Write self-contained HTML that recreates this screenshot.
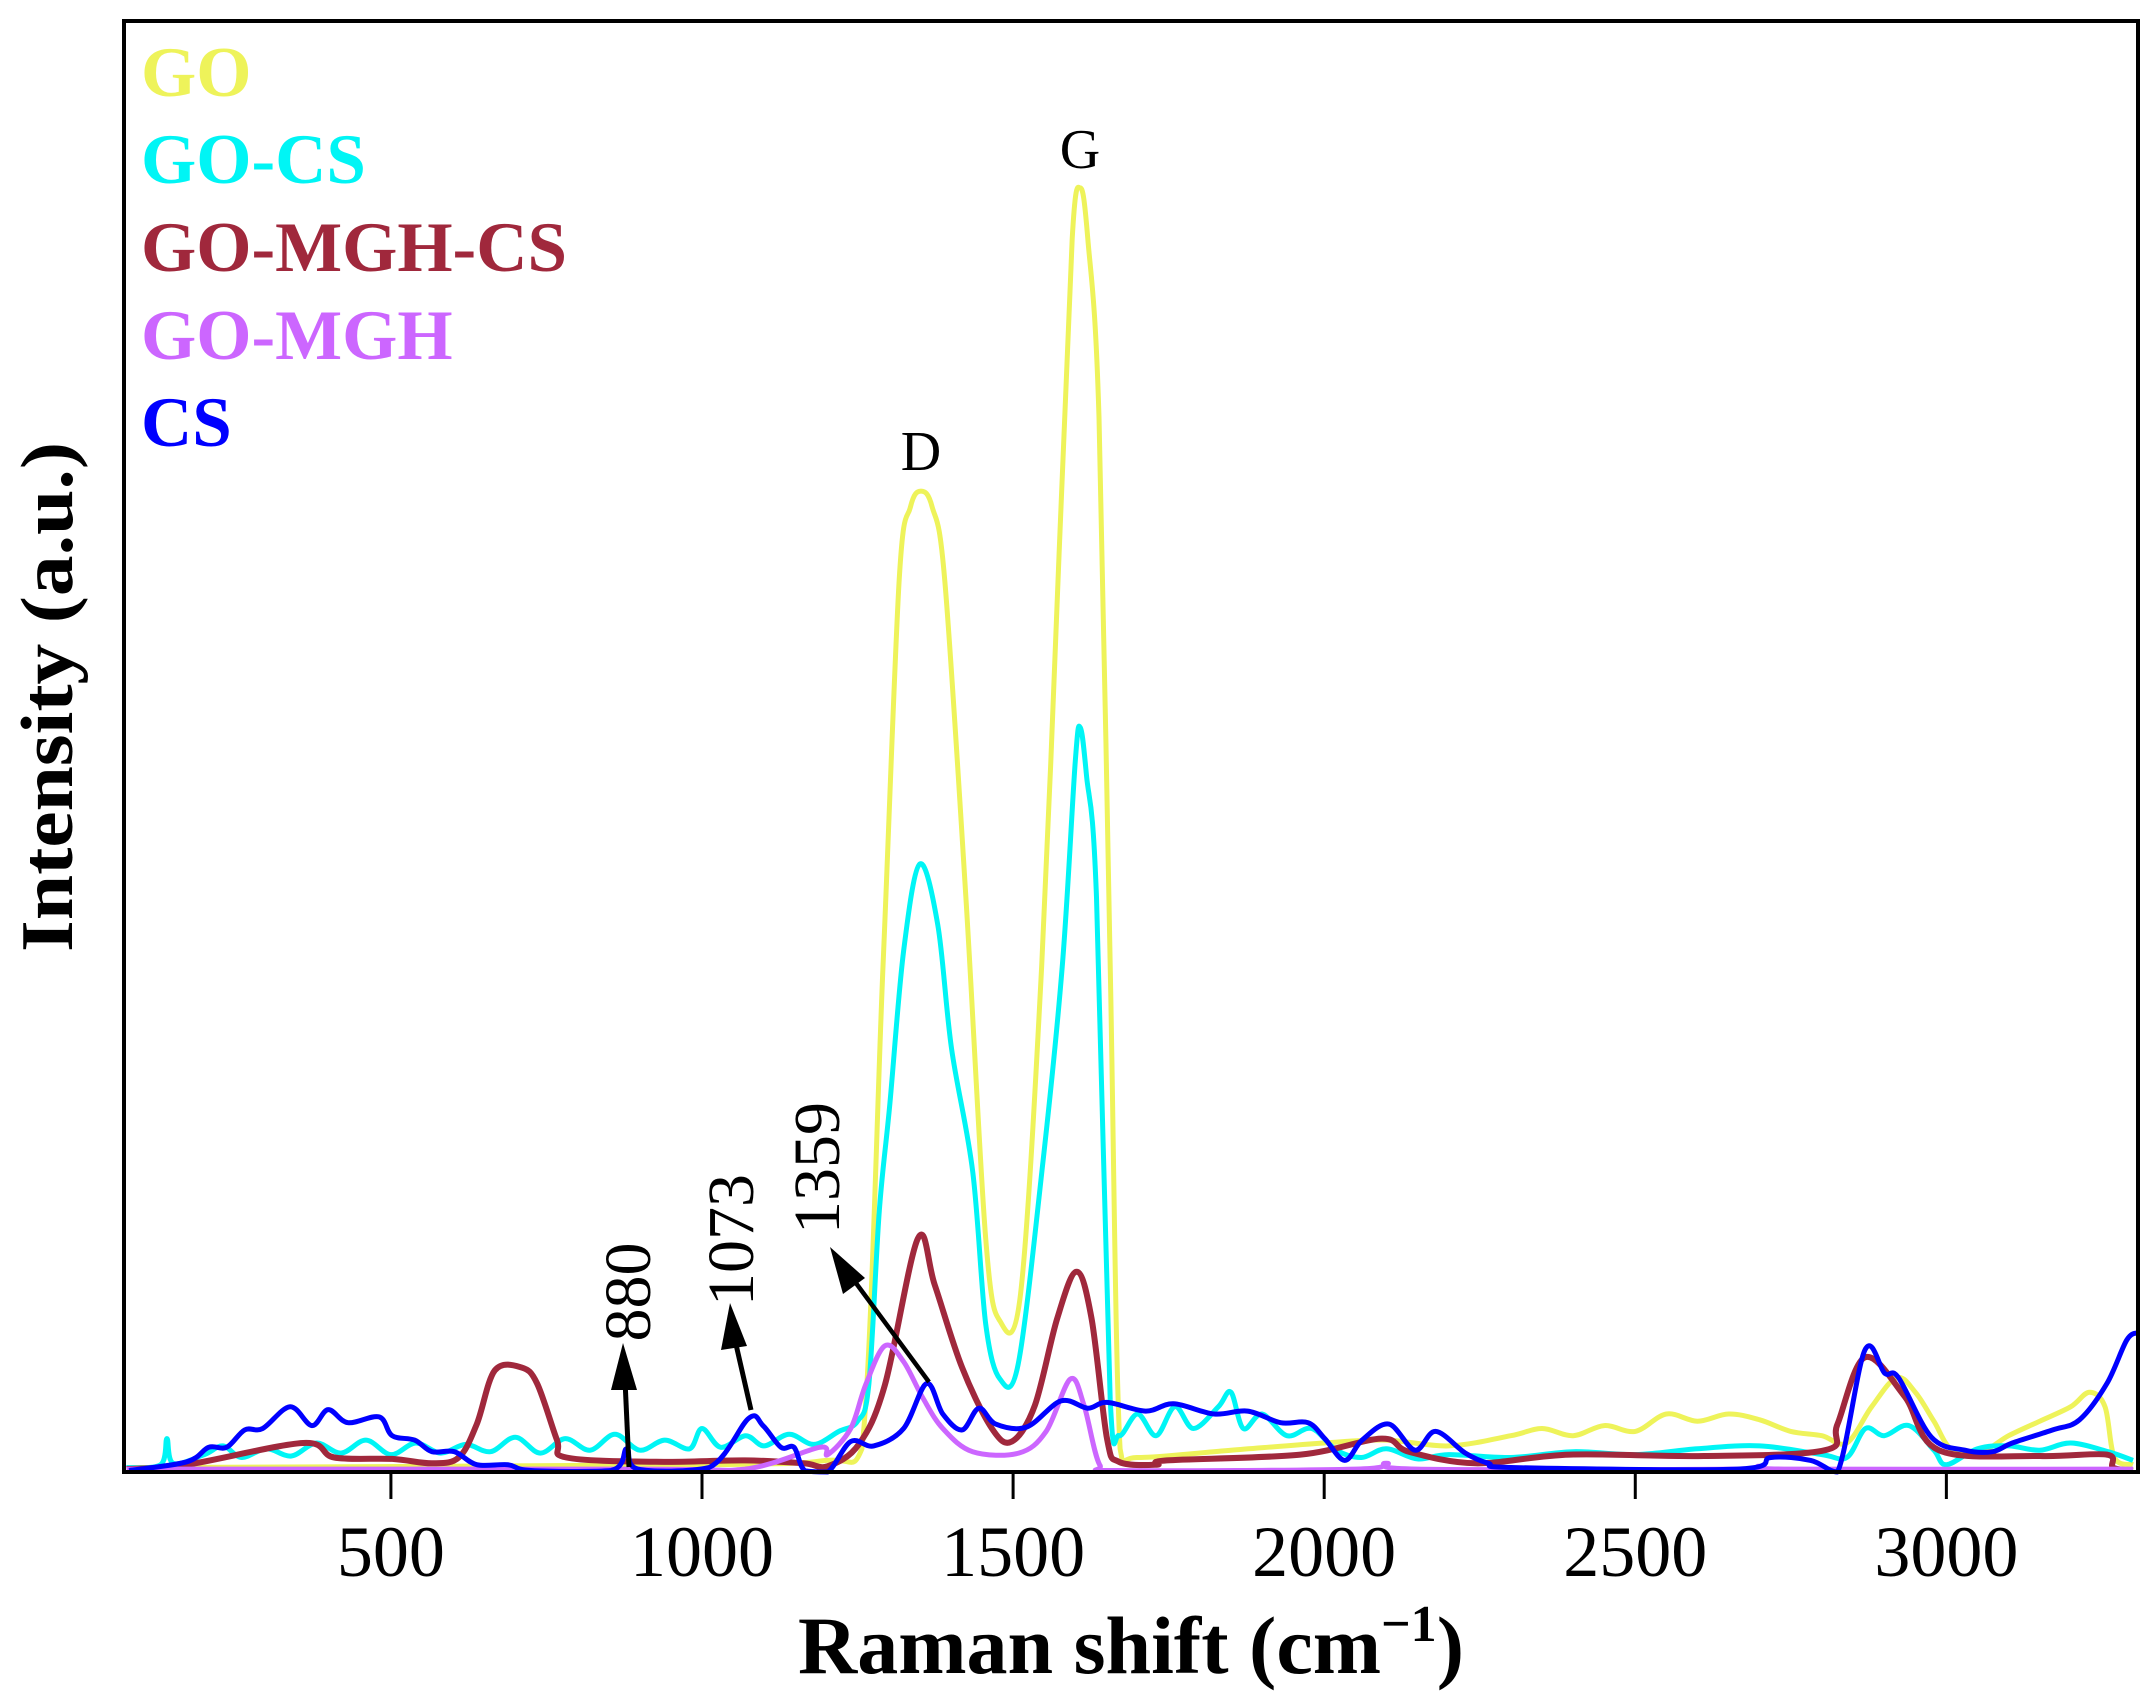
<!DOCTYPE html>
<html><head><meta charset="utf-8"><style>
html,body{margin:0;padding:0;background:#fff;}
svg{display:block;font-family:"Liberation Serif","Times New Roman",serif;}
</style></head><body>
<svg id="chart" width="2152" height="1708" viewBox="0 0 2152 1708" xmlns="http://www.w3.org/2000/svg">
<g id="series"></g>
<rect x="124" y="21" width="2014" height="1451" fill="none" stroke="#000" stroke-width="4"/>
<g id="xticks"></g>
<text x="1131" y="1673" text-anchor="middle" font-size="82" font-weight="bold">Raman shift (cm<tspan font-size="52" dy="-32">−1</tspan><tspan dy="32">)</tspan></text>
<text transform="translate(72,697) rotate(-90)" text-anchor="middle" font-size="74" font-weight="bold" textLength="510" lengthAdjust="spacingAndGlyphs">Intensity (a.u.)</text>
<g font-weight="bold" font-size="71">
<text x="141" y="96" fill="#eef35a">GO</text>
<text x="141" y="183" fill="#00f5f5">GO-CS</text>
<text x="141" y="271" fill="#a0283c">GO-MGH-CS</text>
<text x="141" y="359" fill="#cc66ff">GO-MGH</text>
<text x="141" y="446" fill="#0000ff">CS</text>
</g>
<text x="921" y="470" text-anchor="middle" font-size="56">D</text>
<text x="1080" y="168" text-anchor="middle" font-size="56">G</text>
<g font-size="66">
<text transform="translate(650,1292) rotate(-90)" text-anchor="middle">880</text>
<text transform="translate(753,1240) rotate(-90)" text-anchor="middle">1073</text>
<text transform="translate(839,1168) rotate(-90)" text-anchor="middle">1359</text>
<g>
<line x1="629" y1="1467" x2="625" y2="1380" stroke="#000" stroke-width="5"/>
<polygon points="623,1343 611,1390 637,1390" fill="#000"/>
</g>
<g>
<line x1="751" y1="1410" x2="735" y2="1340" stroke="#000" stroke-width="5"/>
<polygon points="730,1303 721,1350 747,1346" fill="#000"/>
</g>
<g>
<line x1="929" y1="1382" x2="850" y2="1275" stroke="#000" stroke-width="4.5"/>
<polygon points="830,1247 843,1294 865,1278" fill="#000"/>
</g>
</g>
</svg>
<script>
const xDomain=[71,3308];
const yDomain=[0,100];
const xTicks=[500,1000,1500,2000,2500,3000];
const goX=[75,1000,1200,1257,1291,1317,1335,1352,1370,1390,1424,1456,1479,1512,1546,1574,1595,1608,1620,1638,1656,1672,1700,1850,2000,2100,2200,2300,2350,2400,2450,2500,2550,2600,2650,2700,2750,2800,2840,2880,2920,2950,2980,3010,3060,3100,3150,3200,3230,3255,3270,3300];
const goY=[0.3,0.5,0.8,1.6,35,61.5,66.5,67.6,66.5,61.5,39.7,16.1,10.4,12.3,34.9,63.3,85,88.5,85,72.7,34.9,1.6,1.0,1.5,2.0,2.2,1.8,2.5,3.0,2.5,3.2,2.8,4.0,3.5,4.0,3.6,2.8,2.5,2.0,4.5,6.5,5.5,3.5,1.5,1.5,2.5,3.5,4.5,5.5,4.5,1.0,0.5];
const goCsX=[75,130,140,150,200,230,260,300,340,380,420,460,500,540,580,620,660,700,740,780,820,860,900,940,980,1000,1030,1070,1100,1140,1180,1220,1250,1268,1285,1302,1324,1350,1379,1401,1435,1456,1479,1508,1546,1579,1600,1608,1618,1634,1656,1670,1700,1730,1760,1790,1830,1850,1870,1900,1940,1980,2020,2060,2100,2150,2200,2300,2400,2500,2600,2700,2800,2840,2870,2900,2940,2980,3000,3050,3100,3150,3200,3260,3300];
const goCsY=[0.3,0.5,2.3,0.6,1.2,1.8,1.0,1.6,1.1,2.0,1.3,2.2,1.2,2.0,1.3,1.9,1.4,2.4,1.3,2.3,1.5,2.6,1.5,2.2,1.6,3.0,1.7,2.5,1.8,2.6,1.9,2.8,3.5,6,18,25.4,35.9,41.9,37.7,29.2,20.7,10.2,6.4,7.4,20.6,34.8,49,51.3,48,39.6,5,2.5,4.0,2.5,4.5,3.0,4.5,5.5,3.0,4.0,2.5,3.0,1.5,1.0,1.6,0.9,1.2,1.0,1.4,1.2,1.6,1.8,1.2,1.0,3.0,2.5,3.2,1.5,0.5,1.6,1.8,1.5,2.0,1.4,0.8];
const mghCsX=[75,172,359,409,502,566,609,638,667,710,735,767,782,926,1069,1163,1202,1252,1294,1347,1374,1418,1466,1498,1535,1571,1602,1626,1651,1670,1731,1747,1962,2092,2136,2243,2395,2610,2805,2825,2869,2933,2988,3150,3258,3268,3300];
const mghCsY=[0.2,0.5,2.0,1.0,0.9,0.6,1.0,3.3,7.0,7.2,6.1,2.2,1.0,0.7,0.8,0.6,0.4,1.9,6.0,16.1,12.9,7.2,3.0,2.1,4.6,10.6,13.8,10.6,2.3,0.7,0.5,0.8,1.2,2.3,1.4,0.6,1.2,1.1,1.5,3.3,7.9,5.2,1.5,1.1,1.2,0.3,0.1];
const mghX=[75,900,1069,1189,1202,1239,1263,1294,1324,1355,1387,1435,1509,1553,1592,1614,1639,1670,2050,2100,2150,2650,2700,2750,3300];
const mghY=[0.2,0.2,0.2,1.7,1.2,3.0,6.0,8.7,7.6,5.1,3.0,1.4,1.3,2.8,6.4,4.6,0.5,0.1,0.2,0.6,0.2,0.2,0.4,0.2,0.2];
const csX=[79,172,207,236,265,294,338,373,399,431,481,502,538,566,602,638,688,725,854,879,897,1011,1075,1098,1127,1148,1165,1202,1239,1276,1324,1361,1387,1418,1445,1472,1522,1577,1620,1651,1713,1758,1823,1877,1930,1974,2001,2033,2061,2104,2146,2179,2227,2264,2307,2664,2718,2782,2825,2869,2901,2923,2976,3030,3074,3106,3171,3214,3258,3290,3308];
const csY=[0.1,0.7,1.7,1.7,2.9,3.0,4.5,3.2,4.3,3.4,3.8,2.5,2.2,1.4,1.4,0.5,0.5,0.1,0.1,1.6,0.2,0.3,3.7,3.2,1.7,1.7,0.1,0.0,2.1,1.8,3.0,6.1,4.0,2.9,4.4,3.3,3.1,4.9,4.4,4.8,4.2,4.7,4.0,4.2,3.4,3.4,2.3,0.8,2.2,3.3,1.5,2.8,1.3,0.6,0.3,0.2,1.0,0.8,0.0,8.4,6.8,6.5,2.4,1.5,1.4,2.0,2.9,3.6,6.1,9.1,9.6];

const X0=124,X1=2138,Y0=1472,Y1=21;
function xs(v){return X0+(v-xDomain[0])*(X1-X0)/(xDomain[1]-xDomain[0]);}
function ys(v){return Y0-(v-yDomain[0])*(Y0-Y1)/(yDomain[1]-yDomain[0]);}
const NS="http://www.w3.org/2000/svg";
const sg=document.getElementById('series');
function draw(xa,ya,color,w,name){
  const P=xa.map((v,i)=>[xs(v),ys(ya[i])]);
  let d='M'+P[0][0].toFixed(1)+' '+P[0][1].toFixed(1);
  for(let i=0;i<P.length-1;i++){
    const p0=P[i-1]||P[i],p1=P[i],p2=P[i+1],p3=P[i+2]||P[i+1];
    const c1x=p1[0]+(p2[0]-p0[0])/6,c1y=p1[1]+(p2[1]-p0[1])/6;
    const c2x=p2[0]-(p3[0]-p1[0])/6,c2y=p2[1]-(p3[1]-p1[1])/6;
    d+='C'+c1x.toFixed(1)+' '+Math.min(Y0,c1y).toFixed(1)+' '+c2x.toFixed(1)+' '+Math.min(Y0,c2y).toFixed(1)+' '+p2[0].toFixed(1)+' '+p2[1].toFixed(1);
  }
  const p=document.createElementNS(NS,'path');
  p.setAttribute('d',d);p.setAttribute('fill','none');p.setAttribute('stroke',color);
  p.setAttribute('stroke-width',w);p.setAttribute('stroke-linejoin','round');
  
  
  sg.appendChild(p);
}
draw(goX,goY,'#eef35a',5,'series-go');
draw(goCsX,goCsY,'#00f5f5',5,'series-go-cs');
draw(mghCsX,mghCsY,'#a0283c',6,'series-go-mgh-cs');
draw(mghX,mghY,'#cc66ff',5,'series-go-mgh');
draw(csX,csY,'#0000ff',5,'series-cs');
const tg=document.getElementById('xticks');
xTicks.forEach(t=>{
  const l=document.createElementNS(NS,'line');
  l.setAttribute('x1',xs(t));l.setAttribute('x2',xs(t));l.setAttribute('y1',Y0);l.setAttribute('y2',Y0+27);
  l.setAttribute('stroke','#000');l.setAttribute('stroke-width','3');
  
  
  tg.appendChild(l);
  const tx=document.createElementNS(NS,'text');
  tx.setAttribute('x',xs(t));tx.setAttribute('y',1576);tx.setAttribute('text-anchor','middle');
  tx.setAttribute('font-size','72');tx.textContent=t;
  
  
  tg.appendChild(tx);
});
</script>
</body></html>
